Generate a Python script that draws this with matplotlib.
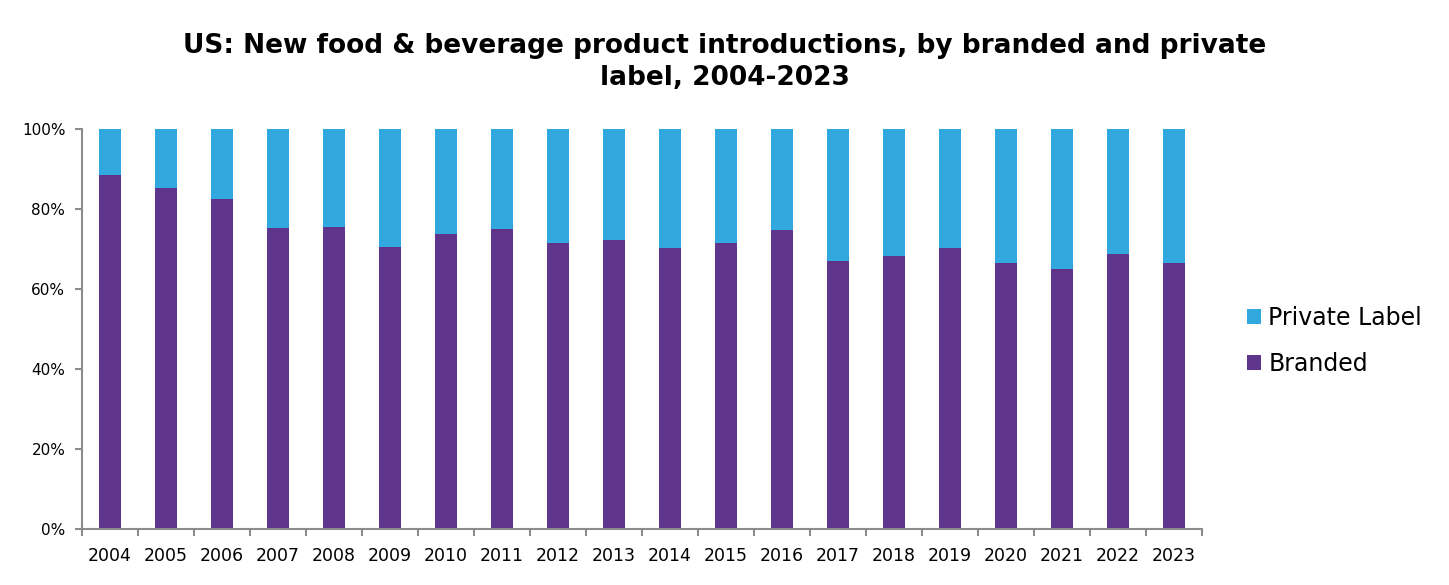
import matplotlib.pyplot as plt
import numpy as np
from matplotlib.ticker import FuncFormatter, FixedLocator

years = ['2004', '2005', '2006', '2007', '2008', '2009', '2010', '2011', '2012', '2013',
         '2014', '2015', '2016', '2017', '2018', '2019', '2020', '2021', '2022', '2023']
branded = [88.4, 85.3, 82.6, 75.2, 75.6, 70.6, 73.8, 75.0, 71.6, 72.3,
           70.3, 71.6, 74.8, 67.1, 68.3, 70.3, 66.5, 65.1, 68.8, 66.5]
private_label = [100 - b for b in branded]

purple = '#5e358a'
blue = '#31a8de'
axis_grey = '#8c8c8c'

plt.rcParams['font.family'] = 'DejaVu Sans'

fig = plt.figure(figsize=(14.49, 5.85), dpi=100)
ax = fig.add_axes([82 / 1449, 1 - 529 / 585, 1120 / 1449, 400 / 585])

x = np.arange(len(years))
ax.bar(x, branded, width=0.4, color=purple, label='Branded')
ax.bar(x, private_label, width=0.4, bottom=branded, color=blue, label='Private Label')

ax.set_xlim(-0.5, len(years) - 0.5)
ax.set_ylim(0, 100)
ax.set_yticks(np.arange(0, 101, 20))
ax.yaxis.set_major_formatter(FuncFormatter(lambda v, p: f'{v:.0f}%'))

# category labels centred on bars, tick marks on the boundaries
ax.set_xticks(x)
ax.set_xticklabels(years, fontsize=12.5)
ax.tick_params(axis='x', which='major', length=0, pad=13)
ax.xaxis.set_minor_locator(FixedLocator(np.arange(-0.5, len(years), 1)))
ax.tick_params(axis='x', which='minor', length=5, color=axis_grey, width=1.5)
ax.tick_params(axis='y', length=5, color=axis_grey, width=1.5, labelsize=11, pad=7)

for s in ['top', 'right']:
    ax.spines[s].set_visible(False)
for s in ['left', 'bottom']:
    ax.spines[s].set_color(axis_grey)
    ax.spines[s].set_linewidth(1.5)

handles, labels = ax.get_legend_handles_labels()
fig.legend(handles[::-1], labels[::-1], loc='center left', bbox_to_anchor=(1226 / 1449, 1 - 341 / 585),
           frameon=False, fontsize=17, handlelength=0.6, handleheight=0.6,
           handletextpad=0.3, labelspacing=0.95)

fig.text(0.5, 1 - 62 / 585,
         'US: New food & beverage product introductions, by branded and private\nlabel, 2004-2023',
         ha='center', va='center', fontsize=19, fontweight='bold', linespacing=1.3)

fig.savefig('out.png', dpi=100)
